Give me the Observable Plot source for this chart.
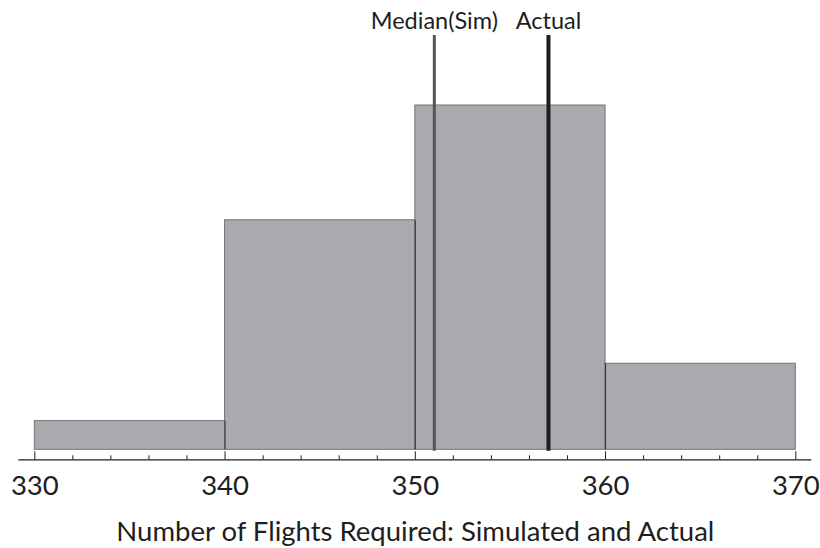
<!DOCTYPE html>
<html>
<head>
<meta charset="utf-8">
<script src="https://cdn.jsdelivr.net/npm/d3@7"></script>
<script src="https://cdn.jsdelivr.net/npm/@observablehq/plot@0.6"></script>
<style>
  body { margin: 0; background: #fff; }
</style>
</head>
<body>
<div id="chart"></div>
<script>
// Histogram of simulated flight counts, with the simulated median and the actual count
const binStarts = [330, 340, 350, 360];
const binWidth = 10;
const counts = [1, 8, 12, 3];
const majorTicks = [330, 340, 350, 360, 370];
const minorTicks = [332, 334, 336, 338, 342, 344, 346, 348, 352, 354, 356, 358, 362, 364, 366, 368];
const markerNames = ["Median(Sim)", "Actual"];
const markerValues = [351, 357];
const xLabel = "Number of Flights Required: Simulated and Actual";

const bins = binStarts.map((x0, i) => ({x1: x0, x2: x0 + binWidth, count: counts[i]}));
// dark edges where two neighbouring bars meet
const dividers = bins.slice(1).map((b, i) => ({x: b.x1, h: Math.min(b.count, bins[i].count)}));
const markers = markerNames.map((name, i) => ({name, value: markerValues[i]}));

const chart = Plot.plot({
  width: 820,
  height: 548,
  marginLeft: 34.3,
  marginRight: 24.7,
  marginTop: 105,
  marginBottom: 98.7,
  style: {fontFamily: "Lato, 'Open Sans', sans-serif", color: "#1e1e1e", background: "#fff"},
  x: {domain: [330, 370]},
  y: {domain: [0, 12], axis: null},
  marks: [
    Plot.rectY(bins, {x1: "x1", x2: "x2", y: "count", fill: "#a9aaae", stroke: "#747474", strokeWidth: 1}),
    Plot.ruleX(dividers, {x: "x", y1: 0, y2: "h", stroke: "#333", strokeWidth: 1}),
    Plot.ruleX(markers.slice(0, 1), {x: "value", stroke: "#565656", strokeWidth: 3, insetTop: -70, insetBottom: -1.5}),
    Plot.ruleX(markers.slice(1), {x: "value", stroke: "#1e1e1e", strokeWidth: 4, insetTop: -70, insetBottom: -1.5}),
    Plot.text(markers, {x: "value", text: "name", frameAnchor: "top", lineAnchor: "bottom", dy: -76.5, fontSize: 23.5, fill: "#1e1e1e"}),
    Plot.ruleY([0], {dy: 10, insetLeft: -16, insetRight: -16, stroke: "#1e1e1e", strokeWidth: 1.3}),
    Plot.axisX({ticks: majorTicks, tickSize: -8, dy: 10, tickPadding: 24, fontSize: 27.5, label: null, tickFormat: d => String(d), stroke: "#1e1e1e"}),
    Plot.axisX({ticks: minorTicks, tickSize: -4, dy: 10, label: null, tickFormat: () => "", stroke: "#1e1e1e"}),
    Plot.text([xLabel], {text: d => d, frameAnchor: "bottom", lineAnchor: "bottom", dy: 91, fontSize: 27.5, fill: "#1e1e1e"})
  ]
});
document.getElementById("chart").append(chart);
</script>
</body>
</html>
